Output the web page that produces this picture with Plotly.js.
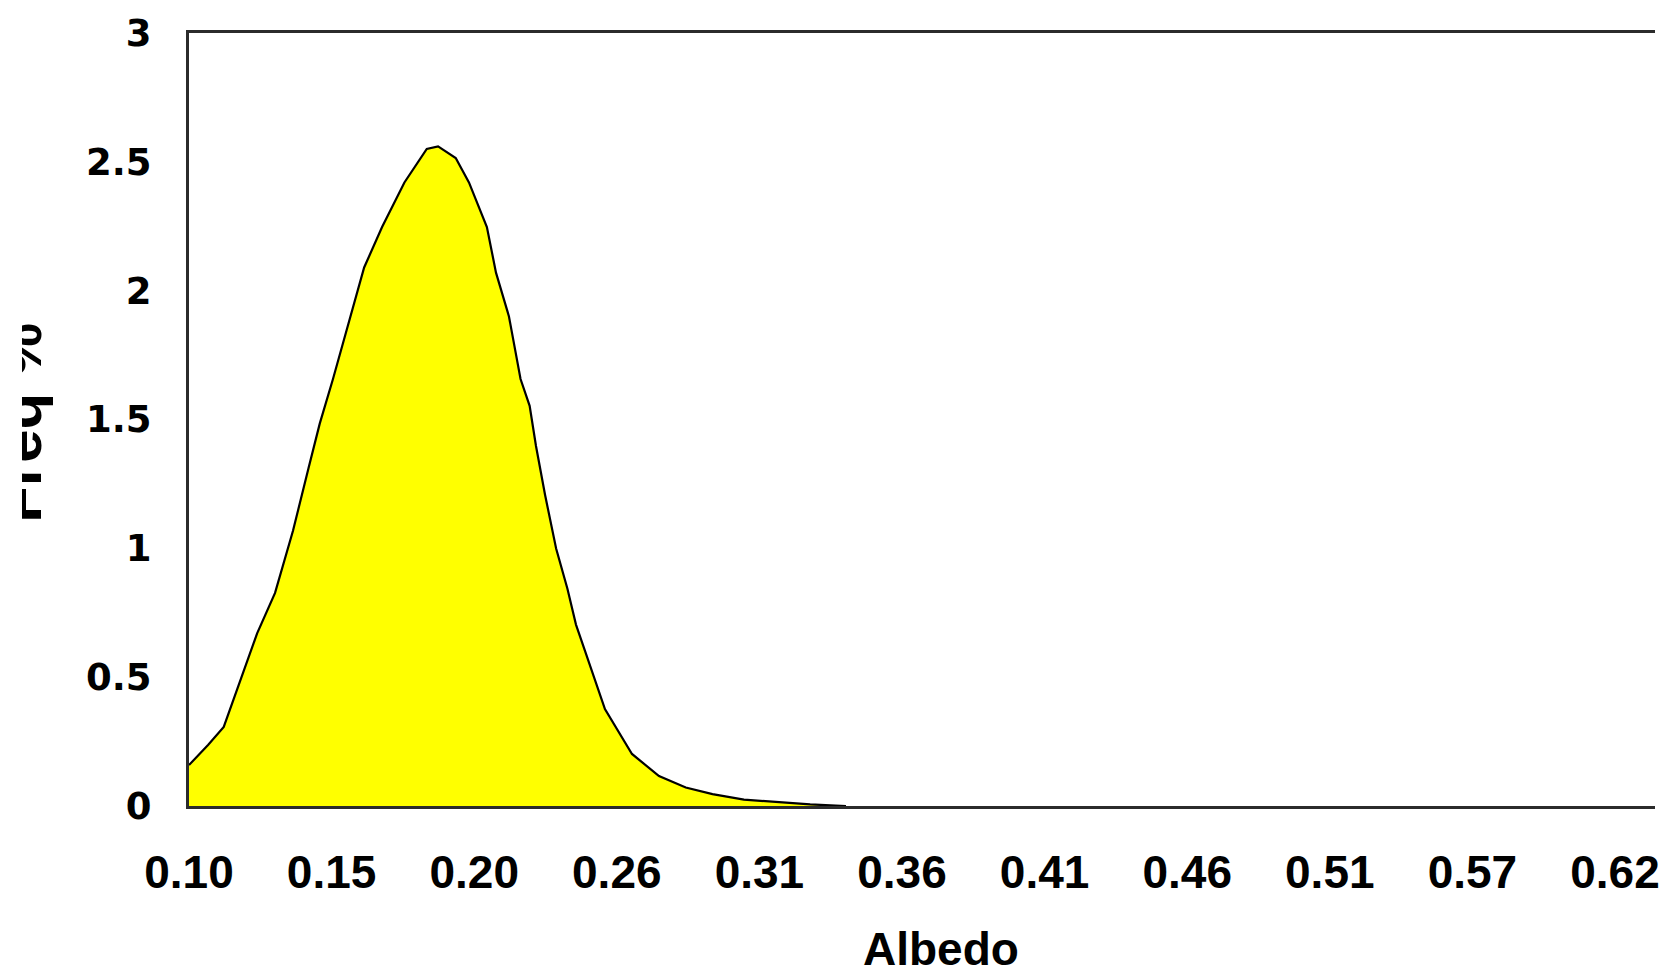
<!DOCTYPE html>
<html>
<head>
<meta charset="utf-8">
<script src="https://cdn.plot.ly/plotly-3.0.1.min.js"></script>
<style>
  html, body { margin: 0; padding: 0; background: #ffffff; overflow: hidden; }
  #chart { position: absolute; left: 22px; top: 0; width: 1643px; height: 977px; }
</style>
</head>
<body>
<div id="chart"></div>
<script>
// Albedo (x) and frequency in % (y)
const albedo = [0.1005,0.1074,0.1131,0.1171,0.1252,0.1317,0.1382,0.1438,0.1479,0.1527,
                0.1567,0.1640,0.1705,0.1786,0.1867,0.1908,0.1972,0.2020,0.2085,0.2118,
                0.2165,0.2207,0.2240,0.2263,0.2296,0.2336,0.2377,0.2408,0.2441,0.2513,
                0.2611,0.2709,0.2806,0.2903,0.3017,0.3130,0.3257,0.3387];
const freq   = [0.159,0.237,0.307,0.427,0.670,0.827,1.068,1.310,1.484,1.657,
                1.813,2.090,2.247,2.420,2.550,2.560,2.515,2.420,2.247,2.070,
                1.900,1.657,1.553,1.397,1.207,0.999,0.843,0.704,0.601,0.376,
                0.202,0.116,0.072,0.046,0.025,0.015,0.006,0.000];

// Category-style tick positions and their printed labels
const tickPos    = [0.1005,0.1522,0.2039,0.2556,0.3073,0.3590,0.4107,0.4624,0.5141,0.5658,0.6175];
const tickLabels = ['0.10','0.15','0.20','0.26','0.31','0.36','0.41','0.46','0.51','0.57','0.62'];
const yTickVals  = [0,0.5,1,1.5,2,2.5,3];
const yTickText  = ['0','0.5','1','1.5','2','2.5','3'];

const xTitle = 'Albedo';
const yTitle = 'Freq %';

const trace = {
  x: albedo,
  y: freq,
  type: 'scatter',
  mode: 'lines',
  fill: 'tozeroy',
  fillcolor: '#ffff00',
  line: { color: '#000000', width: 2.2 },
  hoverinfo: 'x+y'
};

const layout = {
  width: 1643,
  height: 977,
  margin: { l: 167, r: 10, t: 33, b: 171 },
  paper_bgcolor: '#ffffff',
  plot_bgcolor: '#ffffff',
  showlegend: false,
  xaxis: {
    range: [0.1005, 0.6320],
    tickmode: 'array',
    tickvals: tickPos,
    ticktext: tickLabels,
    ticks: '',
    showgrid: false,
    zeroline: false,
    showline: true,
    linecolor: '#2b2b2b',
    linewidth: 3,
    mirror: true,
    ticklabelstandoff: 24,
    tickfont: { family: 'Liberation Sans, Arial, sans-serif', size: 46, color: '#000000', weight: 'bold' }
  },
  yaxis: {
    range: [0, 3],
    tickmode: 'array',
    tickvals: yTickVals,
    ticktext: yTickText,
    ticks: '',
    showgrid: false,
    zeroline: false,
    showline: true,
    linecolor: '#2b2b2b',
    linewidth: 3,
    mirror: false,
    ticklabelstandoff: 27,
    tickfont: { family: 'DejaVu Sans, sans-serif', size: 37, color: '#000000', weight: 'bold' }
  },
  annotations: [
    {
      text: '<b>' + xTitle + '</b>',
      xref: 'paper', yref: 'paper',
      x: 0.5133, y: 0,
      xanchor: 'center', yanchor: 'middle',
      yshift: -143,
      showarrow: false,
      font: { family: 'Liberation Sans, Arial, sans-serif', size: 46, color: '#000000' }
    },
    {
      text: '<b>' + yTitle + '</b>',
      xref: 'paper', yref: 'paper',
      x: 0, y: 0.495,
      xanchor: 'right', yanchor: 'middle',
      xshift: -133,
      textangle: -90,
      showarrow: false,
      font: { family: 'Liberation Sans, Arial, sans-serif', size: 60, color: '#000000' }
    }
  ]
};

Plotly.newPlot('chart', [trace], layout, { displayModeBar: false, staticPlot: true });
</script>
</body>
</html>
